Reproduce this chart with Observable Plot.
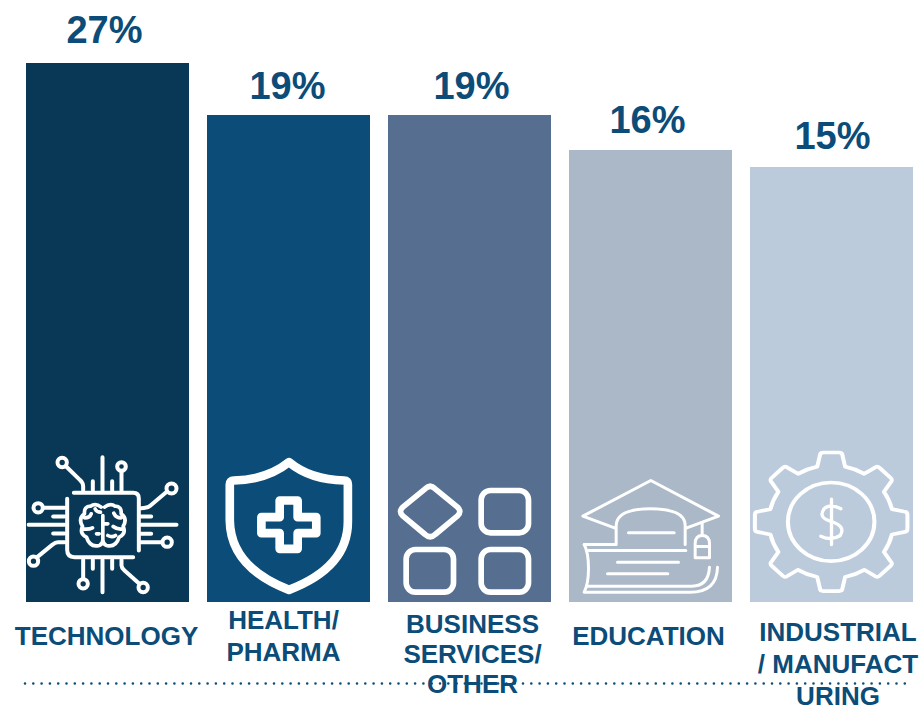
<!DOCTYPE html>
<html>
<head>
<meta charset="utf-8">
<script src="https://cdn.jsdelivr.net/npm/d3@7"></script>
<script src="https://cdn.jsdelivr.net/npm/@observablehq/plot@0.6"></script>
<style>
html,body{margin:0;padding:0;background:#fff;}
svg{display:block;}
</style>
</head>
<body>
<div id="chart"></div>
<script>
// ---- Data ----
const categories = ["TECHNOLOGY", "HEALTH/\nPHARMA", "BUSINESS\nSERVICES/\nOTHER", "EDUCATION", "INDUSTRIAL\n/ MANUFACT\nURING"];
const percentLabels = ["27%", "19%", "19%", "16%", "15%"];
const barHeights = [53.9, 48.7, 48.7, 45.2, 43.5]; // drawn heights of the (non-proportional) bars
const barColors = ["#083856", "#0b4c78", "#566f91", "#aab8c8", "#bbcbdc"];

// ---- Layout / style ----
const ink = "#0b4c78";
const pctNudge = [{dx:-3.5,dy:-21},{dx:-1.5,dy:-17},{dx:1.5,dy:-17},{dx:-3.5,dy:-18},{dx:0.5,dy:-19}];
const catNudge = [{dx:-1.5,base:644,lh:32},{dx:-5.5,base:660,lh:31.5},{dx:2.5,base:692.5,lh:30},{dx:-2.5,base:644,lh:32},{dx:6,base:704,lh:32}];
const yPerPx = 0.1, baseY = 602;
const pxToY = px => (baseY - px) * yPerPx;
const catFont = 26, pctFont = 38;

// ---- Icons (decorative artwork, white line drawings) ----
function svgIcon(viewBox, sw, body){
  const s = `<svg xmlns="http://www.w3.org/2000/svg" viewBox="${viewBox}" width="163" height="160" preserveAspectRatio="none"><g fill="none" stroke="#fff" stroke-width="${sw}" stroke-linecap="round" stroke-linejoin="round">${body}</g></svg>`;
  return "data:image/svg+xml;charset=utf-8," + encodeURIComponent(s);
}
const techIcon = svgIcon("78 6 489 480", 12, `
<path d="M220,157H398Q415,157 415,174V330"/>
<path d="M398,350H222Q200,350 200,328V175"/>
<path d="M306,50V150M277,122V150M335,122V150M363,92V150M197,78L238,118Q248,126 248,138V150"/>
<circle cx="185" cy="66" r="14"/><circle cx="363" cy="78" r="13"/>
<path d="M497,155L450,195Q442,203 422,203M422,228H452M422,253H528M422,280H452M422,305H485"/>
<circle cx="513" cy="144" r="15"/><circle cx="500" cy="305" r="14"/>
<path d="M127,202H192M158,228H192M84,253H192M158,279H192M192,305H172Q165,305 155,313L110,350"/>
<circle cx="113" cy="202" r="14"/><circle cx="99" cy="362" r="14"/>
<path d="M248,358V415M277,358V385M306,358V455M335,358V385M363,358V375Q363,382 372,390L415,428"/>
<circle cx="248" cy="430" r="14"/><circle cx="428" cy="441" r="14"/>
<path stroke-width="11" d="M302,200Q285,186 270,197Q250,197 252,220Q232,235 246,257Q236,280 258,290Q268,322 296,315Q306,312 307,298V225M312,200Q329,186 344,197Q364,197 362,220Q382,235 368,257Q378,280 356,290Q346,322 318,315Q308,312 307,298M252,232Q268,232 272,220M246,265Q264,268 276,262M362,232Q346,232 340,218M368,265Q350,268 338,258M307,250H322M288,280H296M322,285Q335,292 345,285M300,215Q288,215 284,205"/>`);
const shieldIcon = svgIcon("621 6 490 480", 26, `
<path d="M866,65Q800,118 700,120Q688,120 688,132V240Q690,380 866,448Q1045,380 1043,240V132Q1043,120 1032,120Q930,118 866,65Z"/>
<path d="M838,180H892V230H948V278H892V325H838V278H783V230H838Z"/>`);
const blocksIcon = svgIcon("25 6 489 480", 17, `
<path d="M135,145Q150,130 165,145L232,200Q246,213 232,226L165,282Q150,296 135,282L68,226Q54,213 68,200Z"/>
<rect x="303" y="150" width="142" height="127" rx="28"/>
<rect x="78" y="327" width="142" height="128" rx="28"/>
<rect x="303" y="327" width="142" height="128" rx="28"/>`);
const gradIcon = svgIcon("568 6 489 480", 9, `
<path d="M705,263L608,227L812,120L1015,227L918,263"/>
<path d="M708,312V255Q710,205 810,205Q915,205 915,255V312M745,277H882"/>
<path d="M966,245V285M945,352V310Q945,285 966,285Q988,285 988,310V352ZM945,318H988"/>
<path d="M612,312H705M625,330H917M712,365H895M682,400H863"/>
<path d="M612,312Q625,335 625,385Q625,430 612,455H930Q1010,455 1012,380M625,437H935Q985,437 988,380"/>`);
function gearPath(){
  const R = 170, T = 208, wb = 38, wt = 31, n = 8;
  const pt = (a, along, across) => [(along*Math.cos(a) - across*Math.sin(a)).toFixed(1), (along*Math.sin(a) + across*Math.cos(a)).toFixed(1)];
  let d = "";
  for (let i = 0; i < n; i++){
    const a = -Math.PI/2 + i*2*Math.PI/n;
    const p1 = pt(a, Math.sqrt(R*R-wb*wb), -wb), p2 = pt(a, T-10, -wt), q = pt(a, T, -wt), p3 = pt(a, T, -wt+10),
          p4 = pt(a, T, wt-10), r = pt(a, T, wt), p5 = pt(a, T-10, wt), p6 = pt(a, Math.sqrt(R*R-wb*wb), wb);
    d += (i ? "A"+R+","+R+" 0 0 1 " : "M") + p1.join(",") + "L" + p2.join(",") + "Q" + q.join(",") + " " + p3.join(",") + "L" + p4.join(",") + "Q" + r.join(",") + " " + p5.join(",") + "L" + p6.join(",");
  }
  const a0 = -Math.PI/2, s = pt(a0, Math.sqrt(R*R-wb*wb), -wb);
  return d + "A"+R+","+R+" 0 0 1 " + s.join(",") + "Z";
}
const gearIcon = svgIcon("61 6 489 480", 11, `
<g transform="translate(303,244) scale(1.1,1)"><path d="${gearPath()}"/><circle r="118"/></g>
<path stroke-width="10" d="M332,205Q300,188 282,205Q262,232 304,243Q348,258 330,285Q305,302 272,287M304,176V312"/>`);
const icons = [techIcon, shieldIcon, blocksIcon, gradIcon, gearIcon];

// ---- Tables built from the arrays ----
const bars = categories.map((c,i)=>({category:c, height:barHeights[i], color:barColors[i], pct:percentLabels[i], icon:icons[i]}));

const chart = Plot.plot({
  width: 919, height: 709,
  marginLeft: 25, marginRight: 7, marginTop: 0, marginBottom: 0,
  x: {domain: categories, range: [26, 913.4], paddingInner: 0.1, paddingOuter: 0, axis: null},
  y: {domain: [0, baseY*yPerPx], range: [baseY, 0], axis: null},
  marks: [
    Plot.barY(bars, {x:"category", y:"height", fill:"color"}),
    Plot.image(bars, {x:"category", y:pxToY(522), src:"icon", width:163, height:160, preserveAspectRatio:"none"}),
    ...bars.map((b,i)=>Plot.text([b], {x:"category", y:"height", text:"pct", lineAnchor:"bottom", dx:pctNudge[i].dx, dy:pctNudge[i].dy,
      fill:ink, fontFamily:"Liberation Sans", fontWeight:"bold", fontSize:pctFont})),
    Plot.ruleY([pxToY(683)], {stroke:ink, strokeWidth:2.6, strokeDasharray:"0 8.3", strokeLinecap:"round"}),
    ...bars.map((b,i)=>Plot.text([b], {x:"category", y:pxToY(catNudge[i].base), text:"category", lineAnchor:"bottom", textAnchor:"middle", lineHeight:catNudge[i].lh/catFont, dx:catNudge[i].dx,
      fill:ink, fontFamily:"Liberation Sans", fontWeight:"bold", fontSize:catFont}))
  ]
});
document.getElementById("chart").appendChild(chart);
</script>
</body>
</html>
